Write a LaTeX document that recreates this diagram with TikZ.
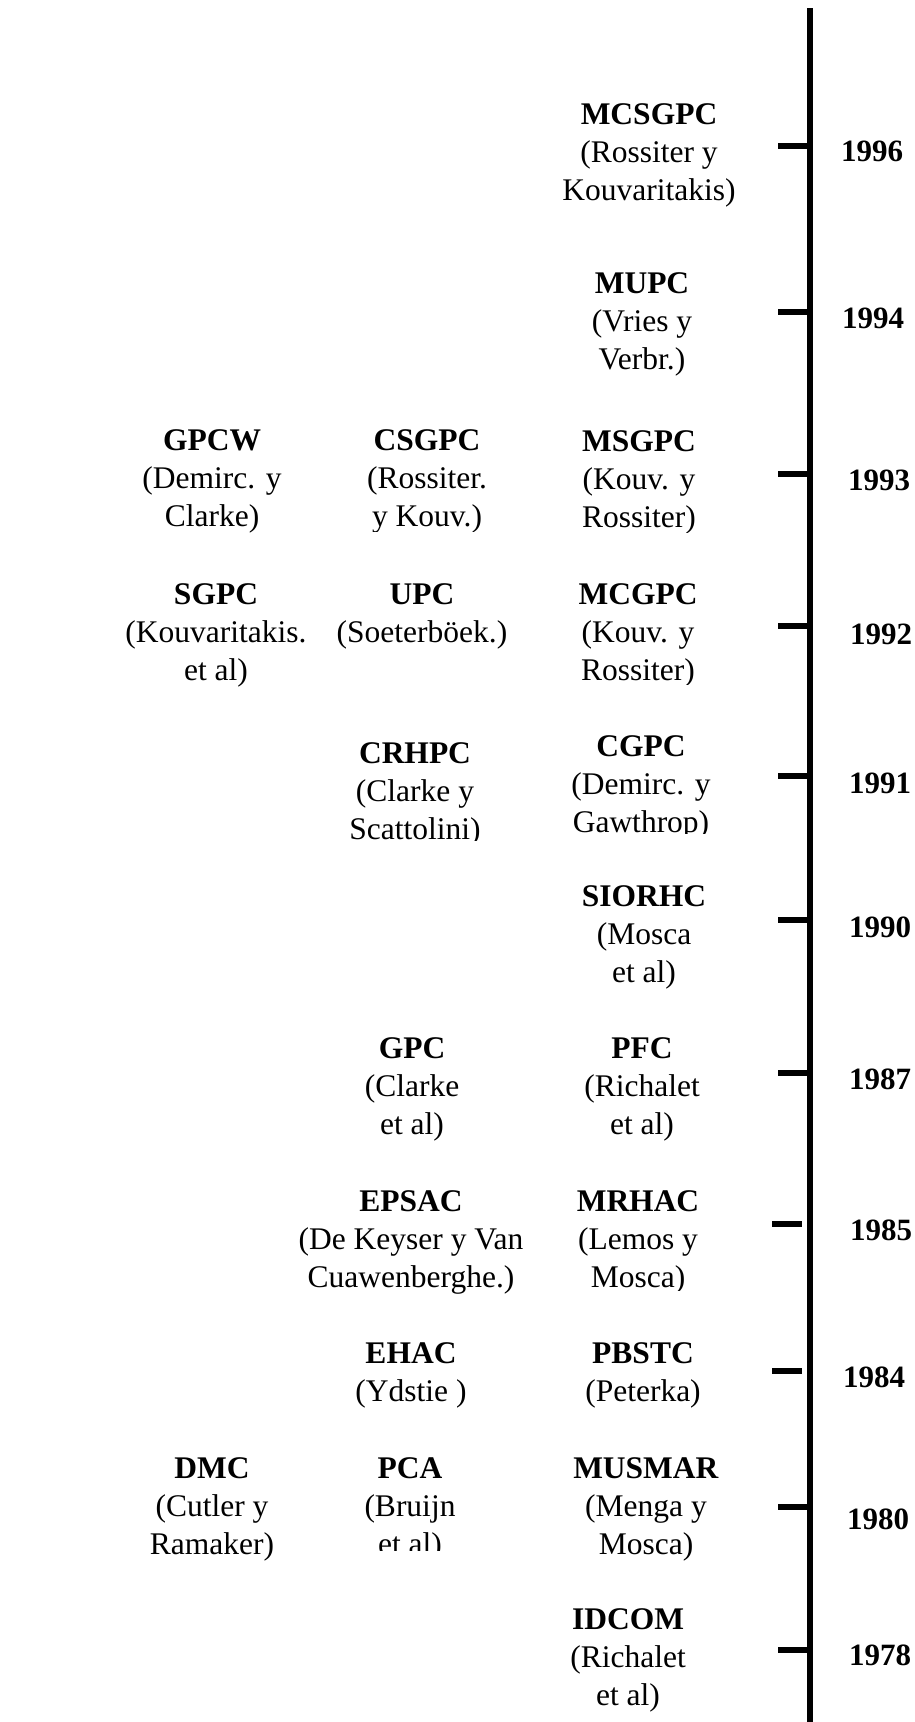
\documentclass[tikz,border=0pt]{standalone}
\usepackage{fontspec}
\setmainfont{Liberation Serif}
\begin{document}
\begin{tikzpicture}[x=1pt,y=-1pt,
  entry/.style={anchor=north,inner sep=0pt,align=center,
    font=\fontsize{31.5}{38.3}\selectfont},
  year/.style={inner sep=0pt,font=\fontsize{31}{36}\selectfont\bfseries},
  axis/.style={line width=6pt},
  tick/.style={line width=6pt}]
\useasboundingbox (0,0) rectangle (915,1722);

% time axis
\coordinate (top) at (810,8);
\coordinate (bot) at (810,1722);
\draw[axis] (top) -- (bot);

% ticks (start and end points)
\foreach \n/\y in {t96/146,t94/312,t93/474,t92/626,t91/776,t90/920,t87/1073,t80/1507,t78/1650}{
  \coordinate (\n a) at (778,\y);
  \coordinate (\n b) at (810,\y);
  \draw[tick] (\n a) -- (\n b);
}
\foreach \n/\y in {t85/1224,t84/1371}{
  \coordinate (\n a) at (772,\y);
  \coordinate (\n b) at (802,\y);
  \draw[tick] (\n a) -- (\n b);
}

% year labels
\node[year] (y96) at (872,151) {1996};
\node[year] (y94) at (873,318) {1994};
\node[year] (y93) at (879,480) {1993};
\node[year] (y92) at (881,634) {1992};
\node[year] (y91) at (880,783) {1991};
\node[year] (y90) at (880,927) {1990};
\node[year] (y87) at (880,1079) {1987};
\node[year] (y85) at (881,1230) {1985};
\node[year] (y84) at (874,1377) {1984};
\node[year] (y80) at (878,1519) {1980};
\node[year] (y78) at (880,1655) {1978};

% methods, right column
\node[entry] (mcsgpc) at (649,103) {\textbf{MCSGPC}\\(Rossiter y\\Kouvaritakis)};
\node[entry] (mupc) at (642,272) {\textbf{MUPC}\\(Vries y\\Verbr.)};
\begin{scope}
  \clip (540,400) rectangle (760,532);
  \node[entry] (msgpc) at (639,430) {\textbf{MSGPC}\\(Kouv. y\\Rossiter)};
\end{scope}
\begin{scope}
  \clip (540,560) rectangle (760,684);
  \node[entry] (mcgpc) at (638,583) {\textbf{MCGPC}\\(Kouv. y\\Rossiter)};
\end{scope}
\begin{scope}
  \clip (540,710) rectangle (760,833);
  \node[entry] (cgpc) at (641,735) {\textbf{CGPC}\\(Demirc. y\\Gawthrop)};
\end{scope}
\node[entry] (siorhc) at (644,885) {\textbf{SIORHC}\\(Mosca\\et al)};
\node[entry] (pfc) at (642,1037) {\textbf{PFC}\\(Richalet\\et al)};
\begin{scope}
  \clip (540,1170) rectangle (760,1290);
  \node[entry] (mrhac) at (638,1190) {\textbf{MRHAC}\\(Lemos y\\Mosca)};
\end{scope}
\node[entry] (pbstc) at (643,1342) {\textbf{PBSTC}\\(Peterka)};
\node[entry] (musmar) at (646,1457) {\textbf{MUSMAR}\\(Menga y\\Mosca)};
\node[entry] (idcom) at (628,1608) {\textbf{IDCOM}\\(Richalet\\et al)};

% methods, middle column
\begin{scope}
  \clip (300,400) rectangle (540,531);
  \node[entry] (csgpc) at (427,429) {\textbf{CSGPC}\\(Rossiter.\\y Kouv.)};
\end{scope}
\node[entry] (upc) at (422,583) {\textbf{UPC}\\(Soeterböek.)};
\begin{scope}
  \clip (300,710) rectangle (540,840);
  \node[entry] (crhpc) at (415,742) {\textbf{CRHPC}\\(Clarke y\\Scattolini)};
\end{scope}
\node[entry] (gpc) at (412,1037) {\textbf{GPC}\\(Clarke\\et al)};
\node[entry] (epsac) at (411,1190) {\textbf{EPSAC}\\(De Keyser y Van\\Cuawenberghe.)};
\node[entry] (ehac) at (411,1342) {\textbf{EHAC}\\(Ydstie )};
\begin{scope}
  \clip (300,1430) rectangle (540,1550);
  \node[entry] (pca) at (410,1457) {\textbf{PCA}\\(Bruijn\\et al)};
\end{scope}

% methods, left column
\node[entry] (gpcw) at (212,429) {\textbf{GPCW}\\(Demirc. y\\Clarke)};
\node[entry] (sgpc) at (216,583) {\textbf{SGPC}\\(Kouvaritakis.\\et al)};
\node[entry] (dmc) at (212,1457) {\textbf{DMC}\\(Cutler y\\Ramaker)};
\end{tikzpicture}
\end{document}
